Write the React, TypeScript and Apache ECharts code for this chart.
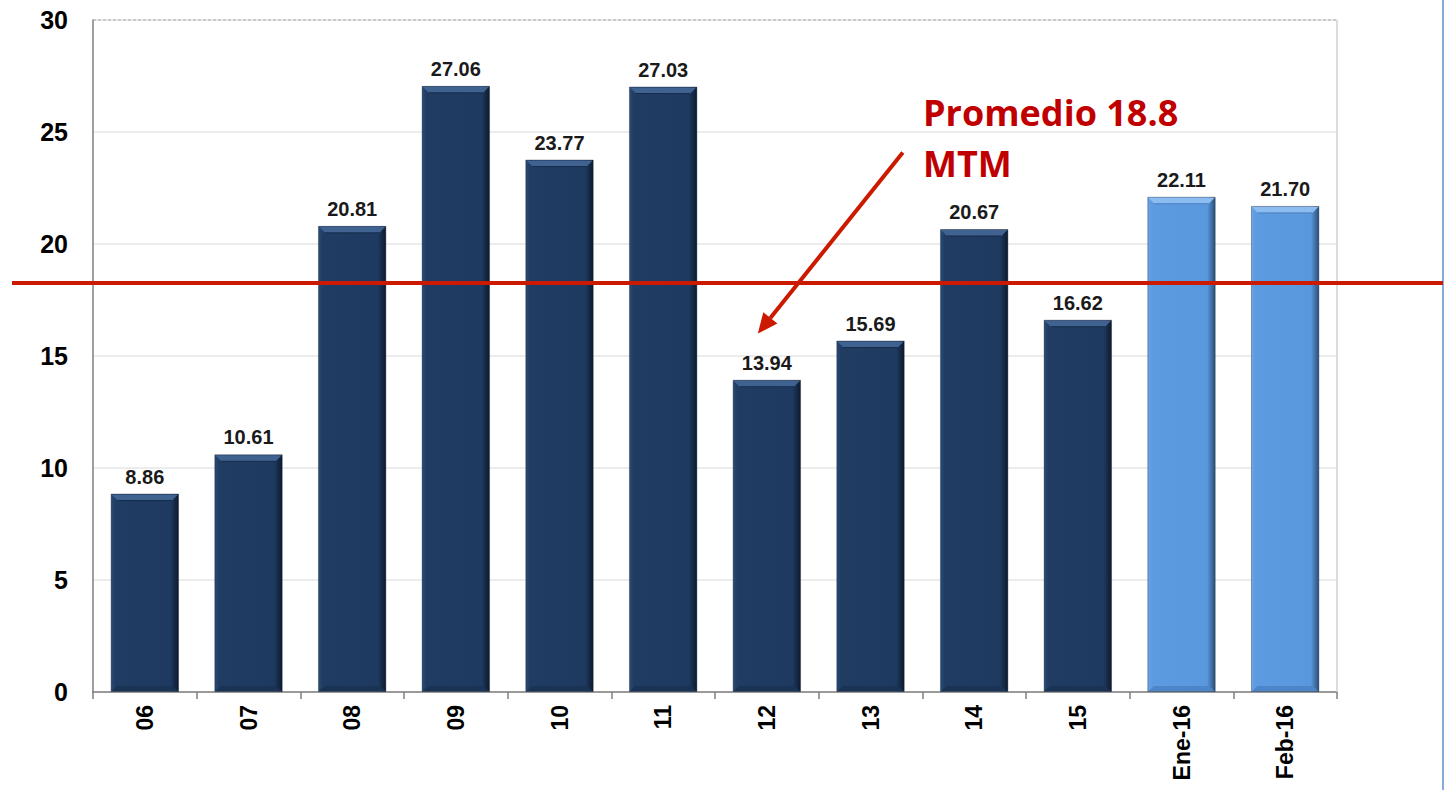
import React, { useEffect, useRef } from "react";
import * as echarts from "echarts";

const categories = ["06", "07", "08", "09", "10", "11", "12", "13", "14", "15", "Ene-16", "Feb-16"];
const values = [8.86, 10.61, 20.81, 27.06, 23.77, 27.03, 13.94, 15.69, 20.67, 16.62, 22.11, 21.7];
const highlighted = [false, false, false, false, false, false, false, false, false, false, true, true];
const averageLineValue = 18.26;
const annotationLines = ["Promedio 18.8", "MTM"];
const arrowTarget = { category: "12", value: 16.0 };

const BAR_RATIO = 0.66;

const darkGradient = () =>
  new echarts.graphic.LinearGradient(0, 0, 1, 0, [
    { offset: 0, color: "#2a4a75" },
    { offset: 0.06, color: "#203c63" },
    { offset: 0.88, color: "#1f3a60" },
    { offset: 1, color: "#0c1a2e" },
  ]);
const lightGradient = () =>
  new echarts.graphic.LinearGradient(0, 0, 1, 0, [
    { offset: 0, color: "#6aa6e6" },
    { offset: 0.06, color: "#5c9be0" },
    { offset: 0.88, color: "#5a98dd" },
    { offset: 1, color: "#2a4f7a" },
  ]);

export default function App() {
  const ref = useRef<HTMLDivElement>(null);
  useEffect(() => {
    if (!ref.current) return;
    const chart = echarts.init(ref.current, null, { renderer: "svg" });
    const option: any = {
      animation: false,
      backgroundColor: "#ffffff",
      grid: { left: 93, right: 110, top: 20, bottom: 98, containLabel: false },
      xAxis: {
        type: "category",
        data: categories,
        boundaryGap: true,
        axisLine: { show: true, lineStyle: { color: "#7f7f7f", width: 1.5 } },
        axisTick: { show: true, alignWithLabel: false, length: 7, lineStyle: { color: "#7f7f7f", width: 1.5 } },
        axisLabel: {
          rotate: 90,
          margin: 13,
          fontFamily: "Liberation Sans, Arial, sans-serif",
          fontWeight: "bold",
          fontSize: 23,
          color: "#000",
        },
        splitLine: { show: false },
      },
      yAxis: {
        type: "value",
        min: 0,
        max: 30,
        interval: 5,
        axisLine: { show: true, lineStyle: { color: "#7f7f7f", width: 1.5 } },
        axisTick: { show: false },
        axisLabel: {
          margin: 25,
          fontFamily: "Liberation Sans, Arial, sans-serif",
          fontWeight: "bold",
          fontSize: 25,
          color: "#000",
        },
        splitLine: { show: true, lineStyle: { color: "#e6e6e6", width: 1.5 } },
      },
      series: [
        {
          type: "bar",
          data: values.map((v, i) => ({
            value: v,
            itemStyle: { color: highlighted[i] ? lightGradient() : darkGradient() },
          })),
          barWidth: BAR_RATIO * 100 + "%",
          itemStyle: { borderColor: "rgba(10,20,40,0.35)", borderWidth: 1 },
          label: {
            show: true,
            position: "top",
            distance: 7,
            formatter: (p: any) => Number(p.value).toFixed(2),
            fontFamily: "Liberation Sans, Arial, sans-serif",
            fontWeight: "bold",
            fontSize: 20,
            color: "#1a1a1a",
          },
        },
        {
          type: "custom",
          silent: true,
          z: 3,
          data: values.map((v, i) => [i, v]),
          encode: { x: 0, y: 1 },
          renderItem: (params: any, api: any) => {
            const idx = api.value(0);
            const top = api.coord([idx, api.value(1)]);
            const bottom = api.coord([idx, 0]);
            const w = api.size([1, 0])[0] * BAR_RATIO;
            const x0 = top[0] - w / 2 + 1;
            const x1 = top[0] + w / 2 - 1;
            const y = top[1] + 1;
            const b = 6;
            const light = highlighted[params.dataIndex];
            return {
              type: "group",
              children: [
                {
                  type: "polygon",
                  shape: { points: [[x0, y], [x1, y], [x1 - b, y + b], [x0 + b, y + b]] },
                  style: { fill: light ? "#8cbcf0" : "#3f6290" },
                },
                {
                  type: "line",
                  shape: { x1: x0 + b, y1: y + b, x2: x1 - b, y2: y + b },
                  style: { stroke: light ? "#4a7fbf" : "#162c4a", lineWidth: 1 },
                },
                {
                  type: "polygon",
                  shape: { points: [[x0, bottom[1] - 1], [x1, bottom[1] - 1], [x1 - b, bottom[1] - b], [x0 + b, bottom[1] - b]] },
                  style: { fill: light ? "#4d86c8" : "#1a3253" },
                },
              ],
            };
          },
        },
      ],
    };
    chart.setOption(option);

    const gridRect = (chart as any).getModel().getComponent("grid").coordinateSystem.getRect();
    const avgY = chart.convertToPixel({ yAxisIndex: 0 }, averageLineValue) as number;
    const tipRaw = chart.convertToPixel({ xAxisIndex: 0, yAxisIndex: 0 } as any, [arrowTarget.category, arrowTarget.value]) as number[];
    const tip = [tipRaw[0] - 9, tipRaw[1]];
    const start = [tip[0] + 145, tip[1] - 181];
    const dx = tip[0] - start[0];
    const dy = tip[1] - start[1];
    const len = Math.sqrt(dx * dx + dy * dy);
    const ux = dx / len;
    const uy = dy / len;
    const headLen = 20;
    const headHalf = 9;
    const base = [tip[0] - ux * headLen, tip[1] - uy * headLen];
    const red = "#cc1a00";

    chart.setOption({
      graphic: [
        {
          type: "line",
          shape: { x1: gridRect.x, y1: gridRect.y, x2: gridRect.x + gridRect.width, y2: gridRect.y },
          style: { stroke: "#a6a6a6", lineWidth: 1, lineDash: [3, 2] },
          z: 5,
        },
        {
          type: "line",
          shape: { x1: gridRect.x + gridRect.width, y1: gridRect.y, x2: gridRect.x + gridRect.width, y2: gridRect.y + gridRect.height },
          style: { stroke: "#d0d0d0", lineWidth: 1.5 },
          z: 5,
        },
        {
          type: "line",
          shape: { x1: 1443, y1: 0, x2: 1443, y2: 790 },
          style: { stroke: "#5b8fd0", lineWidth: 1.5 },
          z: 5,
        },
        {
          type: "line",
          shape: { x1: 12, y1: avgY, x2: 1443, y2: avgY },
          style: { stroke: red, lineWidth: 4 },
          z: 20,
        },
        {
          type: "line",
          shape: { x1: start[0], y1: start[1], x2: base[0], y2: base[1] },
          style: { stroke: red, lineWidth: 4 },
          z: 20,
        },
        {
          type: "polygon",
          shape: {
            points: [
              [tip[0], tip[1]],
              [base[0] - uy * headHalf, base[1] + ux * headHalf],
              [base[0] + uy * headHalf, base[1] - ux * headHalf],
            ],
          },
          style: { fill: red },
          z: 20,
        },
        {
          type: "text",
          x: 923,
          y: 94,
          style: {
            text: annotationLines[0],
            fill: "#c00000",
            font: "bold 36px 'Open Sans', 'Noto Sans', sans-serif",
          },
          z: 20,
        },
        {
          type: "text",
          x: 923,
          y: 145,
          style: {
            text: annotationLines[1],
            fill: "#c00000",
            font: "bold 36px 'Open Sans', 'Noto Sans', sans-serif",
          },
          z: 20,
        },
      ],
    });

    return () => chart.dispose();
  }, []);
  return <div ref={ref} style={{ position: "fixed", left: 0, top: 0, width: 1447, height: 790 }} />;
}
